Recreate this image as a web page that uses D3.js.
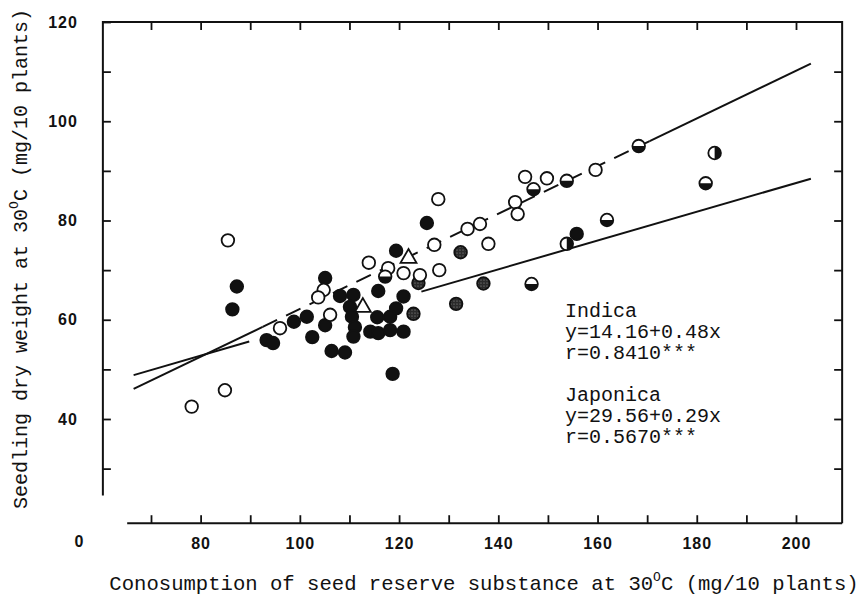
<!DOCTYPE html>
<html>
<head>
<meta charset="utf-8">
<script src="https://cdn.jsdelivr.net/npm/d3@7/dist/d3.min.js"></script>
<style>
  body { margin: 0; background: #fff; }
  svg { display: block; }
</style>
</head>
<body>
<svg id="chart" width="867" height="597"></svg>
<script>
// ---- axis ticks and labels ----
const xTicks = [70, 80, 90, 100, 110, 120, 130, 140, 150, 160, 170, 180, 190, 200];
const xLabels = [80, 100, 120, 140, 160, 180, 200];
const yTicks = [30, 40, 50, 60, 70, 80, 90, 100, 110];
const yLabels = [40, 60, 80, 100, 120];

// ---- regression lines: [intercept, slope] ----
const indicaFit = [14.16, 0.48];
const japonicaFit = [29.56, 0.29];
// drawn pieces of each line, in consumption units
const indicaSolid = [[66.5, 92.5], [170.5, 203]];
const indicaDashed = [[92.5, 170.5]];
const japonicaSolid = [[66.5, 89.8], [124.5, 203]];

// ---- observations: [consumption, seedling dry weight] ----
const openCircles = [
  [78.2, 42.5], [84.9, 45.8], [85.5, 76.0], [96.0, 58.3], [104.8, 66.0],
  [103.7, 64.5], [106.1, 61.0], [113.9, 71.5], [117.8, 70.4], [120.9, 69.4],
  [124.2, 69.0], [127.1, 75.1], [128.1, 70.0], [127.9, 84.3], [133.8, 78.3],
  [136.3, 79.3], [138.0, 75.3], [143.4, 83.7], [143.9, 81.3], [145.4, 88.8],
  [149.8, 88.5], [159.6, 90.2]
];
const filledCircles = [
  [87.3, 66.7], [86.4, 62.1], [93.3, 55.9], [94.6, 55.3], [98.8, 59.6],
  [101.4, 60.6], [102.5, 56.5], [105.1, 68.4], [105.1, 58.9], [108.1, 64.8],
  [110.8, 65.0], [110.1, 62.6], [110.5, 60.6], [111.1, 58.5], [110.8, 56.6],
  [114.2, 57.6], [115.8, 57.3], [118.2, 57.9], [120.9, 57.6], [115.8, 65.8],
  [119.4, 73.9], [120.9, 64.7], [119.4, 62.3], [118.2, 60.6], [115.6, 60.5],
  [106.4, 53.7], [109.1, 53.4], [118.7, 49.1], [125.6, 79.5], [155.8, 77.3]
];
const halfBottomFilled = [
  [117.2, 68.7], [147.1, 86.3], [153.8, 88.0], [146.7, 67.2], [161.9, 80.1],
  [168.3, 95.0], [181.8, 87.5]
];
const halfRightFilled = [[153.8, 75.3], [183.6, 93.6]];
const stippled = [[123.9, 67.4], [122.9, 61.2], [132.4, 73.6], [137.0, 67.3], [131.5, 63.2]];
const triangles = [[121.9, 72.4], [112.7, 62.5]];

const noteLines = [
  "Indica", "y=14.16+0.48x", "r=0.8410***", "",
  "Japonica", "y=29.56+0.29x", "r=0.5670***"
];

// ---- frame extents in data units ----
const frameLeft = 60.3, axisStart = 65.2, frameRight = 209.3;
const frameTop = 120, leftAxisBottom = 24.6, xAxisLevel = 19;

const svg = d3.select("#chart");
const x = d3.scaleLinear().domain([70, 200]).range([151, 796]);
const y = d3.scaleLinear().domain([40, 120]).range([419, 22]);

const ink = "#111";
const mono = "'Liberation Mono', 'DejaVu Sans Mono', monospace";
const sans = "'Liberation Sans', Arial, sans-serif";

// stipple pattern for grey-dotted markers
const defs = svg.append("defs");
const pat = defs.append("pattern").attr("id", "stip")
  .attr("width", 3).attr("height", 3).attr("patternUnits", "userSpaceOnUse");
pat.append("rect").attr("width", 3).attr("height", 3).attr("fill", "#2a2a2a");
pat.append("circle").attr("cx", 1).attr("cy", 1).attr("r", 0.6).attr("fill", "#9a9a9a");

// ---- frame ----
svg.append("path")
  .attr("d", `M${x(frameLeft)},${y(leftAxisBottom)} V${y(frameTop)} H${x(frameRight)} V${y(xAxisLevel)}`)
  .attr("fill", "none").attr("stroke", ink).attr("stroke-width", 2);
svg.append("path")
  .attr("d", `M${x(axisStart)},${y(xAxisLevel)} H${x(frameRight)}`)
  .attr("fill", "none").attr("stroke", ink).attr("stroke-width", 2);

// ---- axes ----
function styleAxis(g) {
  g.select(".domain").remove();
  g.selectAll(".tick line").attr("stroke", ink).attr("stroke-width", 1.8);
  g.selectAll(".tick text").attr("fill", ink)
    .style("font-family", sans).style("font-weight", "bold")
    .style("font-size", "16px").style("letter-spacing", "1px");
}

svg.append("g").attr("transform", `translate(0,${y(xAxisLevel)})`)
  .call(d3.axisBottom(x).tickValues(xTicks).tickSize(-8).tickPadding(14)
    .tickFormat(d => xLabels.includes(d) ? d : ""))
  .call(styleAxis);

svg.append("g").attr("transform", `translate(0,${y(frameTop)})`)
  .call(d3.axisTop(x).tickValues(xTicks).tickSize(-8).tickFormat(""))
  .call(styleAxis);

svg.append("g").attr("transform", `translate(${x(frameLeft)},0)`)
  .call(d3.axisLeft(y).tickValues(yTicks.concat([120])).tickSize(-8).tickPadding(25)
    .tickFormat(d => yLabels.includes(d) ? d : ""))
  .call(styleAxis);

svg.append("g").attr("transform", `translate(${x(frameRight)},0)`)
  .call(d3.axisRight(y).tickValues(yTicks).tickSize(-8).tickFormat(""))
  .call(styleAxis);

// origin label
svg.append("text")
  .attr("x", x(frameLeft) - 24).attr("y", y(xAxisLevel) + 24)
  .attr("text-anchor", "middle").attr("fill", ink)
  .style("font-family", sans).style("font-weight", "bold").style("font-size", "16px")
  .text("0");

// ---- axis titles ----
const xTitle = svg.append("text")
  .attr("x", 484).attr("y", 590).attr("text-anchor", "middle").attr("fill", ink)
  .style("font-family", mono).style("font-size", "20.6px");
xTitle.append("tspan").text("Conosumption of seed reserve substance at 30");
xTitle.append("tspan").attr("dy", -9).style("font-size", "13px").text("O");
xTitle.append("tspan").attr("dy", 9).text("C (mg/10 plants)");

const yTitle = svg.append("text")
  .attr("transform", "translate(27,259) rotate(-90)")
  .attr("text-anchor", "middle").attr("fill", ink)
  .style("font-family", mono).style("font-size", "20px");
yTitle.append("tspan").text("Seedling dry weight at 30");
yTitle.append("tspan").attr("dy", -9).style("font-size", "13px").text("O");
yTitle.append("tspan").attr("dy", 9).text("C (mg/10 plants)");

// ---- regression lines ----
function fitLine(fit, span) {
  return d3.line().x(d => x(d)).y(d => y(fit[0] + fit[1] * d))(span);
}
function drawPieces(fit, pieces, dash) {
  pieces.forEach(span => {
    svg.append("path").attr("d", fitLine(fit, span))
      .attr("fill", "none").attr("stroke", ink).attr("stroke-width", 2)
      .attr("stroke-dasharray", dash);
  });
}
drawPieces(japonicaFit, japonicaSolid, null);
drawPieces(indicaFit, indicaSolid, null);
drawPieces(indicaFit, indicaDashed, "16,10");

// ---- markers ----
const r = 6.3;
const marks = svg.append("g");

function circles(data, fill) {
  marks.selectAll(null).data(data).enter().append("circle")
    .attr("cx", d => x(d[0])).attr("cy", d => y(d[1])).attr("r", r)
    .attr("fill", fill).attr("stroke", ink).attr("stroke-width", 1.8);
}
circles(filledCircles, ink);
circles(stippled, "url(#stip)");
circles(openCircles, "#fff");

function halves(data, a0, a1) {
  circles(data, "#fff");
  const arc = d3.arc().innerRadius(0).outerRadius(r).startAngle(a0).endAngle(a1);
  marks.selectAll(null).data(data).enter().append("path")
    .attr("transform", d => `translate(${x(d[0])},${y(d[1])})`)
    .attr("d", arc()).attr("fill", ink);
}
halves(halfBottomFilled, Math.PI / 2, Math.PI * 1.5);
halves(halfRightFilled, 0, Math.PI);

marks.selectAll(null).data(triangles).enter().append("path")
  .attr("transform", d => `translate(${x(d[0])},${y(d[1])})`)
  .attr("d", d3.symbol(d3.symbolTriangle, 110)())
  .attr("fill", "#fff").attr("stroke", ink).attr("stroke-width", 1.8);

// ---- fit annotations ----
const note = svg.append("text").attr("fill", ink)
  .style("font-family", mono).style("font-size", "20px");
noteLines.forEach((t, i) => {
  note.append("tspan").attr("x", 565).attr("y", 317 + i * 21).text(t);
});
</script>
</body>
</html>
